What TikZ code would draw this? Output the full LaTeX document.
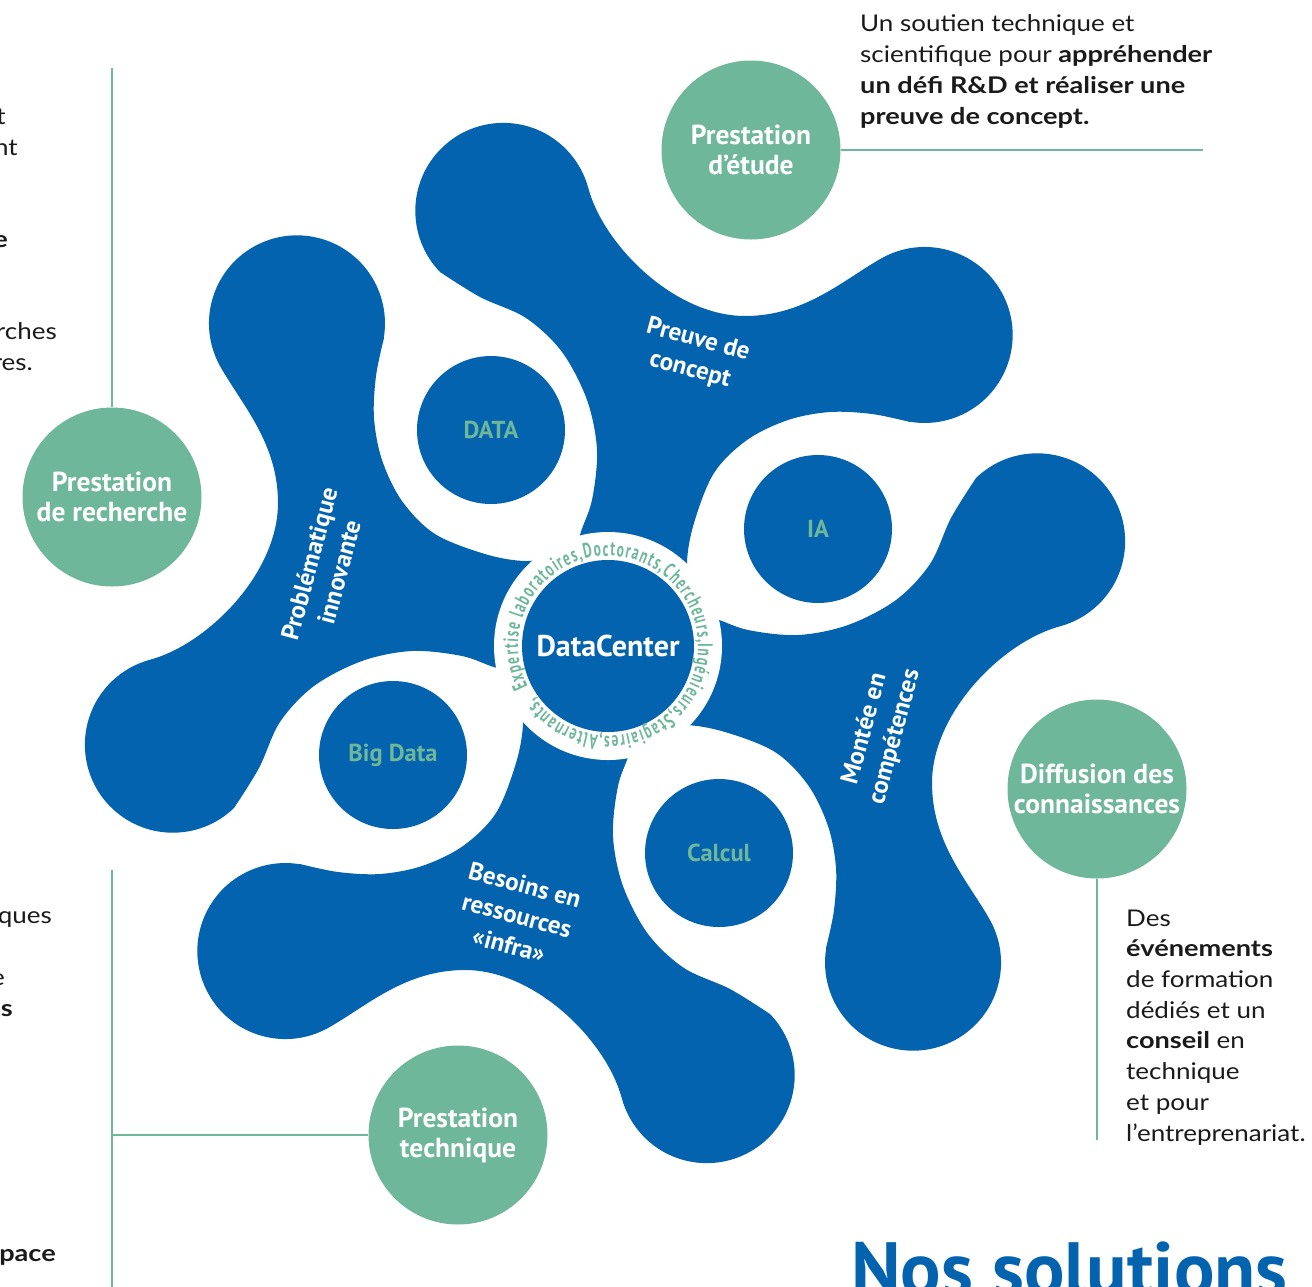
\documentclass[tikz,border=0pt]{standalone}
\usepackage{fontspec}
\setmainfont{Lato}[FakeStretch=1.13,BoldFeatures={FakeStretch=1.18}]
\newfontfamily\dinfont{PT Sans}
\newfontfamily\ringfont{PT Sans}[FakeStretch=0.64]
\usetikzlibrary{decorations.text}
\definecolor{royal}{RGB}{4,99,174}
\definecolor{sage}{RGB}{111,183,155}
\definecolor{ink}{RGB}{26,26,26}
\tikzset{
  offer/.style={circle,fill=sage,minimum size=179pt,inner sep=0pt,align=center,text=white,
    font=\dinfont\bfseries\fontsize{27.5}{30}\selectfont},
  topic/.style={circle,fill=royal,minimum size=148pt,inner sep=0pt,text=sage,
    font=\dinfont\bfseries\fontsize{24.5}{28}\selectfont},
  armlabel/.style={text=white,align=center,inner sep=0pt,
    font=\dinfont\bfseries\fontsize{25}{31}\selectfont},
  body/.style={align=left,inner sep=0pt,text=ink,font=\fontsize{23}{30.7}\selectfont},
  frag/.style={anchor=base east,inner sep=0pt,text=ink,font=\fontsize{23}{30.7}\selectfont},
  leader/.style={draw=sage,line width=2.2pt}
}

\begin{document}
\begin{tikzpicture}[x=1pt,y=-1pt]
    \useasboundingbox (0,0) rectangle (1312,1286);
    \clip (0,0) rectangle (1312,1286);

    \foreach \k in {0,1,2,3}
        \fill[royal,rotate around={-90*\k:(605,643)}] (605,643) -- (572,575)
            -- plot[smooth,tension=0.55] coordinates {(572,575) (580,535) (592,500) (597,450) (587,400) (562,352) (526,318) (480,297) (440,272)}
            arc[start angle=136,end angle=345,radius=88]
            .. controls (604,246) and (675,316) .. (745,316)
            .. controls (805,316) and (843,280) .. (882,258)
            arc[start angle=241,end angle=460,radius=88]
            -- plot[smooth,tension=0.55] coordinates {(910,422) (872,414) (830,412) (788,420) (747,440) (714,473) (694,523) (687,563) (692,600)}
            -- cycle;

    \fill[white] (608,646) circle[radius=114];
    \node[circle,fill=royal,minimum size=172pt,inner sep=0pt,text=white,
        font=\dinfont\bfseries\fontsize{30}{34}\selectfont] (hub) at (608,646) {DataCenter};
    \path[decorate,decoration={text along path,text align={fit to path},text color=sage,
        text={|\ringfont\bfseries\fontsize{21}{24}\selectfont|Expertise laboratoires,Doctorants,Chercheurs,Ingénieurs,Stagiaires,Alternants,}}]
        (608,646) ++(153:90) arc[start angle=153,end angle=505,radius=90];

    \node[topic] (data) at (491,430) {DATA};
    \node[topic] (ia) at (818,529) {IA};
    \node[topic] (calcul) at (719,853) {Calcul};
    \node[topic] (bigdata) at (393,755) {Big Data};

    \node[armlabel,rotate=-15] (preuve) at (694,355) {Preuve de\\concept};
    \node[armlabel,rotate=75] (probleme) at (324,568) {Problématique\\innovante};
    \node[armlabel,rotate=-15] (besoins) at (517,915) {Besoins en\\ressources\\«infra»};
    \node[armlabel,rotate=75] (montee) at (880,733) {Montée en\\compétences};

    \node[offer] (etude) at (751,150) {Prestation\\d’étude};
    \node[offer] (recherche) at (112,497) {Prestation\\de recherche};
    \node[offer] (diffusion) at (1097,789) {Diffusion des\\connaissances};
    \node[offer] (technique) at (458,1135) {Prestation\\technique};

    \coordinate (etudeend) at (1203,150);
    \coordinate (recherchetop) at (112,68);
    \coordinate (diffusionend) at (1097,1140);
    \coordinate (techtop) at (112,870);
    \coordinate (techbot) at (112,1290);
    \coordinate (techjoint) at (112,1135);
    \draw[leader] (etude) -- (etudeend);
    \draw[leader] (recherche) -- (recherchetop);
    \draw[leader] (diffusion) -- (diffusionend);
    \draw[leader] (techtop) -- (techbot);
    \draw[leader] (technique) -- (techjoint);

    \node[body,anchor=base west] (etudetext) at (860,124) {Un soutien technique et\\scientifique pour \textbf{appréhender}\\\textbf{un défi R\&D et réaliser une}\\\textbf{preuve de concept.}};
    \node[body,anchor=base west] (diffusiontext) at (1126,1141) {Des\\\textbf{événements}\\de formation\\dédiés et un\\\textbf{conseil} en\\technique\\et pour\\l’entreprenariat.};

    \node[frag] (fa) at (6,124) {t};
    \node[frag] (fb) at (18,155) {nt};
    \node[frag] (fc) at (8,247) {\textbf{e}};
    \node[frag] (fd) at (57,339) {rches};
    \node[frag] (fe) at (33,370) {res.};
    \node[frag] (ff) at (52,923) {ques};
    \node[frag] (fg) at (5,985) {e};
    \node[frag] (fh) at (13,1016) {\textbf{es}};
    \node[frag] (fi) at (56,1261) {\textbf{pace}};

    \node[anchor=base west,inner sep=0pt,text=royal,font=\dinfont\bfseries\fontsize{75.5}{80}\selectfont] (title) at (851,1295) {Nos solutions};
\end{tikzpicture}
\end{document}
